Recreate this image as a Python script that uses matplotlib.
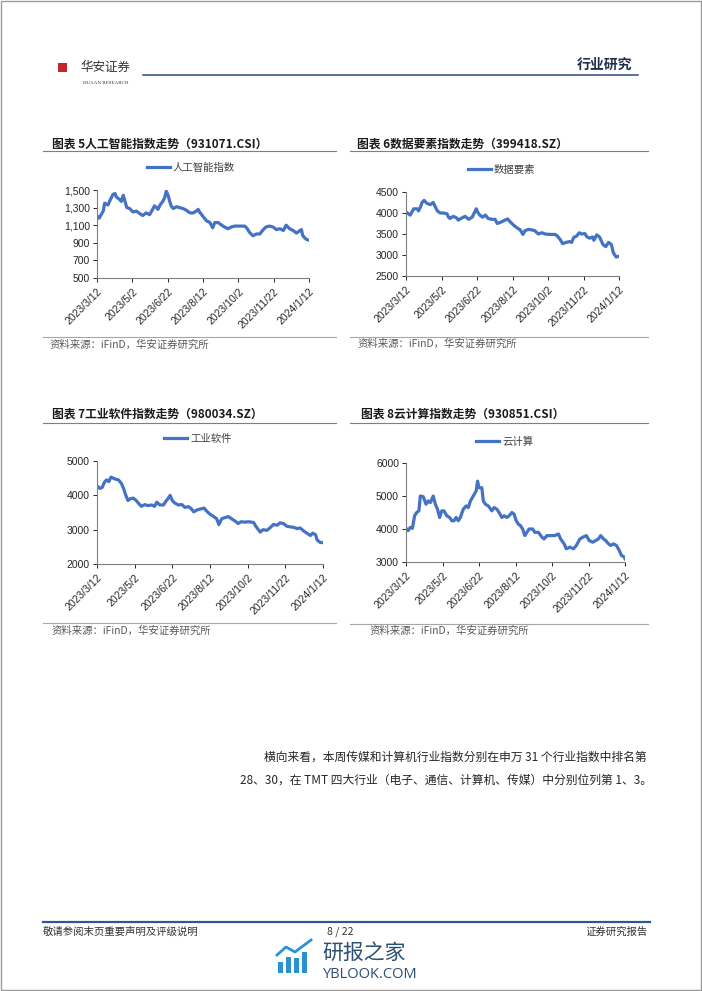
import matplotlib
matplotlib.use("Agg")
import matplotlib.pyplot as plt
import matplotlib.ticker as mticker
import pandas as pd
from matplotlib.lines import Line2D
from matplotlib.patches import Rectangle

plt.rcParams['font.family'] = ['Liberation Sans', 'Noto Sans CJK SC', 'DejaVu Sans']
CJK = ['Noto Sans CJK SC', 'DejaVu Sans']

W, H = 702, 991
START = pd.Timestamp('2023-03-12')

# x tick dates (every 51 days)
tick_days = [0, 51, 102, 153, 204, 255, 306]

# 人工智能指数 (931071.CSI), days after 2023-03-12
ai_days = [0, 3, 9, 11, 16, 18, 23, 26, 28, 33, 35, 38, 40, 43, 47, 52, 57, 62, 66, 71,
           76, 81, 83, 86, 88, 91, 95, 98, 100, 103, 105, 107, 110, 115, 119, 124, 129, 134, 139, 143,
           146, 148, 153, 158, 163, 167, 170, 175, 180, 184, 189, 194, 199, 206, 213, 216, 220, 225, 230, 235,
           240, 244, 249, 254, 259, 264, 269, 273, 278, 283, 288, 293, 295, 297, 302, 306]
ai_vals = [1206, 1180, 1260, 1350, 1330, 1370, 1450, 1460, 1420, 1390, 1370, 1440, 1380, 1300, 1290, 1250, 1260, 1230, 1210, 1240,
           1220, 1290, 1320, 1300, 1280, 1330, 1370, 1420, 1490, 1430, 1370, 1320, 1290, 1310, 1300, 1290, 1270, 1240, 1240, 1260,
           1280, 1250, 1200, 1150, 1130, 1070, 1130, 1130, 1100, 1080, 1060, 1080, 1090, 1090, 1090, 1070, 1020, 980, 1000, 1000,
           1050, 1080, 1090, 1080, 1050, 1060, 1040, 1100, 1060, 1040, 1010, 1040, 1050, 980, 940, 930]

# 数据要素 (399418.SZ)
data_days = [0, 6, 11, 16, 18, 21, 23, 26, 30, 35, 39, 42, 45, 49, 54, 59, 61, 63, 68, 73,
             75, 80, 85, 90, 95, 98, 101, 103, 106, 110, 114, 118, 123, 128, 131, 136, 141, 146, 149, 154,
             159, 164, 168, 171, 176, 180, 185, 190, 195, 200, 207, 214, 217, 221, 225, 230, 235, 238, 241, 245,
             249, 252, 257, 260, 264, 268, 270, 274, 278, 283, 287, 291, 295, 298, 302, 306]
data_vals = [4026, 3950, 4100, 4100, 4050, 4150, 4250, 4300, 4230, 4200, 4250, 4150, 4050, 4000, 4000, 3980, 3900, 3870, 3920, 3880,
             3830, 3880, 3920, 3850, 3900, 4000, 4100, 4020, 3950, 3900, 3950, 3870, 3850, 3850, 3750, 3780, 3820, 3860, 3800, 3720,
             3650, 3600, 3490, 3580, 3610, 3600, 3580, 3500, 3530, 3500, 3490, 3490, 3460, 3380, 3270, 3300, 3320, 3300, 3420, 3450,
             3530, 3500, 3510, 3430, 3400, 3430, 3350, 3480, 3430, 3250, 3200, 3300, 3250, 3050, 2950, 2970]

# 工业软件 (980034.SZ)
ind_days = [0, 4, 7, 10, 13, 16, 19, 24, 29, 33, 36, 39, 42, 45, 49, 53, 57, 60, 65, 69,
            74, 78, 81, 85, 90, 93, 96, 99, 102, 105, 110, 115, 119, 124, 128, 131, 136, 140, 145, 148,
            153, 158, 162, 165, 169, 173, 178, 182, 187, 191, 195, 200, 205, 212, 215, 221, 225, 230, 234, 239,
            244, 248, 253, 257, 262, 266, 271, 275, 280, 284, 289, 292, 296, 298, 302, 306]
ind_vals = [4272, 4200, 4230, 4380, 4450, 4400, 4530, 4480, 4450, 4350, 4200, 4000, 3850, 3900, 3920, 3850, 3750, 3680, 3730, 3700,
            3720, 3680, 3800, 3720, 3720, 3820, 3900, 4000, 3850, 3780, 3720, 3730, 3650, 3670, 3600, 3520, 3580, 3600, 3630, 3550,
            3450, 3380, 3320, 3150, 3320, 3350, 3380, 3320, 3250, 3180, 3230, 3220, 3230, 3210, 3100, 2930, 3000, 2980, 3050, 3150,
            3130, 3200, 3170, 3100, 3080, 3070, 3030, 3050, 2960, 2900, 2830, 2900, 2850, 2700, 2630, 2620]

# 云计算 (930851.CSI)
cloud_days = [0, 3, 6, 9, 12, 15, 18, 20, 24, 28, 31, 34, 38, 41, 44, 47, 50, 53, 57, 61,
              64, 67, 70, 73, 76, 80, 84, 87, 90, 94, 98, 100, 102, 106, 108, 111, 115, 120, 123, 127,
              130, 134, 137, 141, 144, 148, 151, 154, 157, 160, 163, 166, 169, 172, 177, 180, 185, 190, 193, 197,
              201, 208, 213, 216, 221, 224, 229, 234, 238, 243, 247, 252, 256, 261, 265, 269, 272, 276, 279, 283,
              286, 290, 294, 298, 301, 305, 306]
cloud_vals = [4024, 3950, 4050, 4020, 4400, 4500, 4550, 5000, 4980, 4750, 4850, 4800, 5000, 4750, 4600, 4350, 4550, 4550, 4400, 4350,
              4250, 4250, 4350, 4250, 4350, 4600, 4700, 4650, 4850, 5000, 5150, 5450, 5250, 5250, 4850, 4750, 4700, 4550, 4650, 4600,
              4500, 4350, 4400, 4350, 4400, 4500, 4450, 4250, 4150, 4100, 4000, 3800, 3900, 4000, 4000, 3900, 3900, 3750, 3700, 3800,
              3800, 3800, 3850, 3700, 3550, 3400, 3450, 3400, 3500, 3700, 3750, 3800, 3650, 3600, 3650, 3700, 3800, 3700, 3650, 3550,
              3500, 3550, 3500, 3350, 3200, 3150, 3100]

LINE_COLOR = '#4472C4'


def fx(x):
    return x / W


def fy(y):
    return 1 - y / H


def hline(x0, x1, y, color, lw):
    fig.add_artist(Line2D([fx(x0), fx(x1)], [fy(y), fy(y)], color=color, lw=lw,
                          transform=fig.transFigure))


fig = plt.figure(figsize=(W / 100, H / 100), dpi=100)
fig.patch.set_facecolor('white')

# ---- header ----
fig.add_artist(Rectangle((fx(58), fy(72)), 9 / W, 9 / H, transform=fig.transFigure,
                         facecolor='#C1272D', edgecolor='none'))
fig.text(fx(80), fy(67), '华安证券', family=CJK, fontsize=9, color='#333333', va='center')
fig.text(fx(83), fy(83), 'HUAAN RESEARCH', family='Liberation Serif', fontsize=3.6,
         color='#333333', va='center')
hline(143, 638, 75, '#2F4A7A', 1.1)
fig.text(fx(632), fy(65), '行业研究', family=CJK, fontsize=10, fontweight='bold',
         color='#1F2D4E', ha='right', va='center')

charts = [
    dict(title='图表 5人工智能指数走势（931071.CSI）', label='人工智能指数', days=ai_days, vals=ai_vals,
         box=(97, 309, 190, 278), ylim=(500, 1500), step=200, comma=True,
         panel=(43, 336), title_pos=(52, 144), line_y=151, src_line=337, src_pos=(50, 345), leg=(147, 168)),
    dict(title='图表 6数据要素指数走势（399418.SZ）', label='数据要素', days=data_days, vals=data_vals,
         box=(406, 619, 192, 276), ylim=(2500, 4500), step=500, comma=False,
         panel=(350, 648), title_pos=(357, 144), line_y=151, src_line=337, src_pos=(358, 344), leg=(468, 170)),
    dict(title='图表 7工业软件指数走势（980034.SZ）', label='工业软件', days=ind_days, vals=ind_vals,
         box=(97, 323, 461, 564), ylim=(2000, 5000), step=1000, comma=False,
         panel=(43, 336), title_pos=(52, 414), line_y=423, src_line=623, src_pos=(52, 631), leg=(164, 439)),
    dict(title='图表 8云计算指数走势（930851.CSI）', label='云计算', days=cloud_days, vals=cloud_vals,
         box=(406, 625, 463, 562), ylim=(3000, 6000), step=1000, comma=False,
         panel=(350, 648), title_pos=(361, 414), line_y=423, src_line=624, src_pos=(370, 631), leg=(476, 442)),
]

for c in charts:
    x0, x1, ytop, ybot = c['box']
    ax = fig.add_axes([fx(x0), fy(ybot), (x1 - x0) / W, (ybot - ytop) / H])
    dates = START + pd.to_timedelta(c['days'], unit='D')
    line, = ax.plot(dates, c['vals'], color=LINE_COLOR, lw=2.3, solid_joinstyle='round')

    ticks = START + pd.to_timedelta(tick_days, unit='D')
    ax.set_xlim(ticks[0], ticks[-1])
    ax.set_xticks(ticks)
    ax.set_xticklabels([f'{d.year}/{d.month}/{d.day}' for d in ticks], rotation=45,
                       ha='right', rotation_mode='anchor', fontsize=7.5, color='#262626')
    lo, hi = c['ylim']
    ax.set_ylim(lo, hi)
    ax.set_yticks(list(range(lo, hi + 1, c['step'])))
    if c['comma']:
        ax.yaxis.set_major_formatter(mticker.FuncFormatter(lambda v, p: f'{v:,.0f}'))
    ax.tick_params(axis='both', labelsize=7.5, colors='#262626', length=3, width=0.7, pad=2)
    ax.tick_params(axis='x', pad=3)
    for s in ['top', 'right']:
        ax.spines[s].set_visible(False)
    for s in ['left', 'bottom']:
        ax.spines[s].set_color('#7F7F7F')
        ax.spines[s].set_linewidth(0.8)
    ax.set_facecolor('none')

    ax.legend([line], [c['label']], loc='center left',
              bbox_to_anchor=(fx(c['leg'][0]), fy(c['leg'][1])), bbox_transform=fig.transFigure,
              frameon=False, borderpad=0, borderaxespad=0, handlelength=2.2, handletextpad=0.3,
              prop={'family': CJK, 'size': 7.5}, labelcolor='#404040')

    px0, px1 = c['panel']
    fig.text(fx(c['title_pos'][0]), fy(c['title_pos'][1]), c['title'], family=CJK, fontsize=8.5,
             fontweight='bold', color='#1A1A1A', va='center')
    hline(px0, px1, c['line_y'], '#7F7F7F', 0.8)
    hline(px0, px1, c['src_line'], '#A6A6A6', 0.8)
    fig.text(fx(c['src_pos'][0]), fy(c['src_pos'][1]), '资料来源：iFinD，华安证券研究所', family=CJK,
             fontsize=7.5, color='#595959', va='center')

# ---- body text ----
fig.text(fx(264), fy(757), '横向来看，本周传媒和计算机行业指数分别在申万 31 个行业指数中排名第',
         family=CJK, fontsize=8.5, color='#262626', va='center')
fig.text(fx(240), fy(780), '28、30，在 TMT 四大行业（电子、通信、计算机、传媒）中分别位列第 1、3。',
         family=CJK, fontsize=8.5, color='#262626', va='center')

# ---- footer ----
hline(43, 650, 922, '#2F5597', 1.6)
fig.text(fx(43), fy(932), '敬请参阅末页重要声明及评级说明', family=CJK, fontsize=7.5, color='#333333', va='center')
fig.text(fx(340), fy(932), '8 / 22', family=CJK, fontsize=7.5, color='#333333', va='center', ha='center')
fig.text(fx(648), fy(932), '证券研究报告', family=CJK, fontsize=7.5, color='#333333', va='center', ha='right')

# watermark
for bx, btop in [(278, 962), (286, 957), (294, 958), (302, 952)]:
    fig.add_artist(Rectangle((fx(bx), fy(973)), 5 / W, (973 - btop) / H, transform=fig.transFigure,
                             facecolor='#2A92D2', edgecolor='none'))
fig.add_artist(Line2D([fx(277), fx(286), fx(295), fx(311)], [fy(955), fy(947), fy(952), fy(940)],
                      color='#2A92D2', lw=2, transform=fig.transFigure))
fig.text(fx(322), fy(953), '研报之家', family=CJK, fontsize=15, color='#2B4F73', va='center')
fig.text(fx(323), fy(974), 'YBLOOK.COM', family='Open Sans', fontsize=10.5, color='#2B4F73', va='center')

# page border
fig.add_artist(Rectangle((0.5 / W, 1.5 / H), 1 - 1.5 / W, 1 - 2 / H, transform=fig.transFigure,
                         facecolor='none', edgecolor='#9A9A9A', lw=1))

fig.savefig('out.png', dpi=100, facecolor='white')
